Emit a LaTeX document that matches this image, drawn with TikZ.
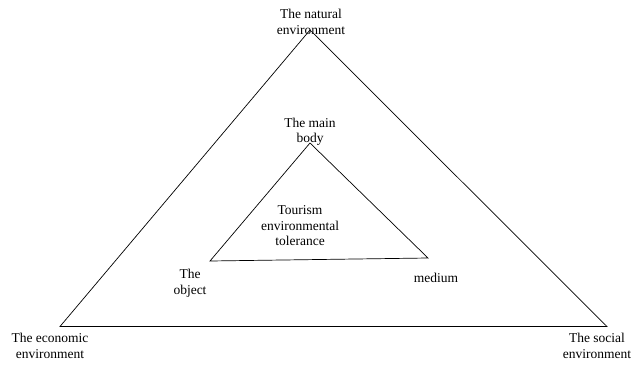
\documentclass[tikz,border=0pt]{standalone}
\usepackage{fontspec}
\setmainfont{Liberation Serif}
\usepackage{tikz}
\usetikzlibrary{positioning}

\begin{document}
\begin{tikzpicture}[x=1pt,y=-1pt]
    \tikzstyle{lbl} = [align=center, inner sep=0pt, font=\fontsize{13.5}{15.5}\selectfont]
\tikzstyle{edge} = [line width=0.7pt, line join=miter]
    \useasboundingbox (0,0) rectangle (641,365);
    % outer triangle
\coordinate (nat) at (310,30);
\coordinate (eco) at (60,326.5);
\coordinate (soc) at (607,326.5);
    % inner triangle
\coordinate (body) at (310,143);
\coordinate (obj) at (210,261);
\coordinate (med) at (428,258);

\draw[edge] (nat) -- (eco) -- (soc) -- cycle;
\draw[edge] (body) -- (obj) -- (med) -- cycle;

\node (natlbl) [lbl] at (311,22) {The natural\\environment};
\node (bodylbl) [lbl] at (310,132) {The main\\body};
\node (core) [lbl] at (300,226) {Tourism\\environmental\\tolerance};
\node (objlbl) [lbl] at (190,283) {The\\object};
\node (medlbl) [lbl] at (436,278) {medium};
\node (ecolbl) [lbl] at (50,346) {The economic\\environment};
\node (soclbl) [lbl] at (597,346) {The social\\environment};
  \end{tikzpicture}
\end{document}
